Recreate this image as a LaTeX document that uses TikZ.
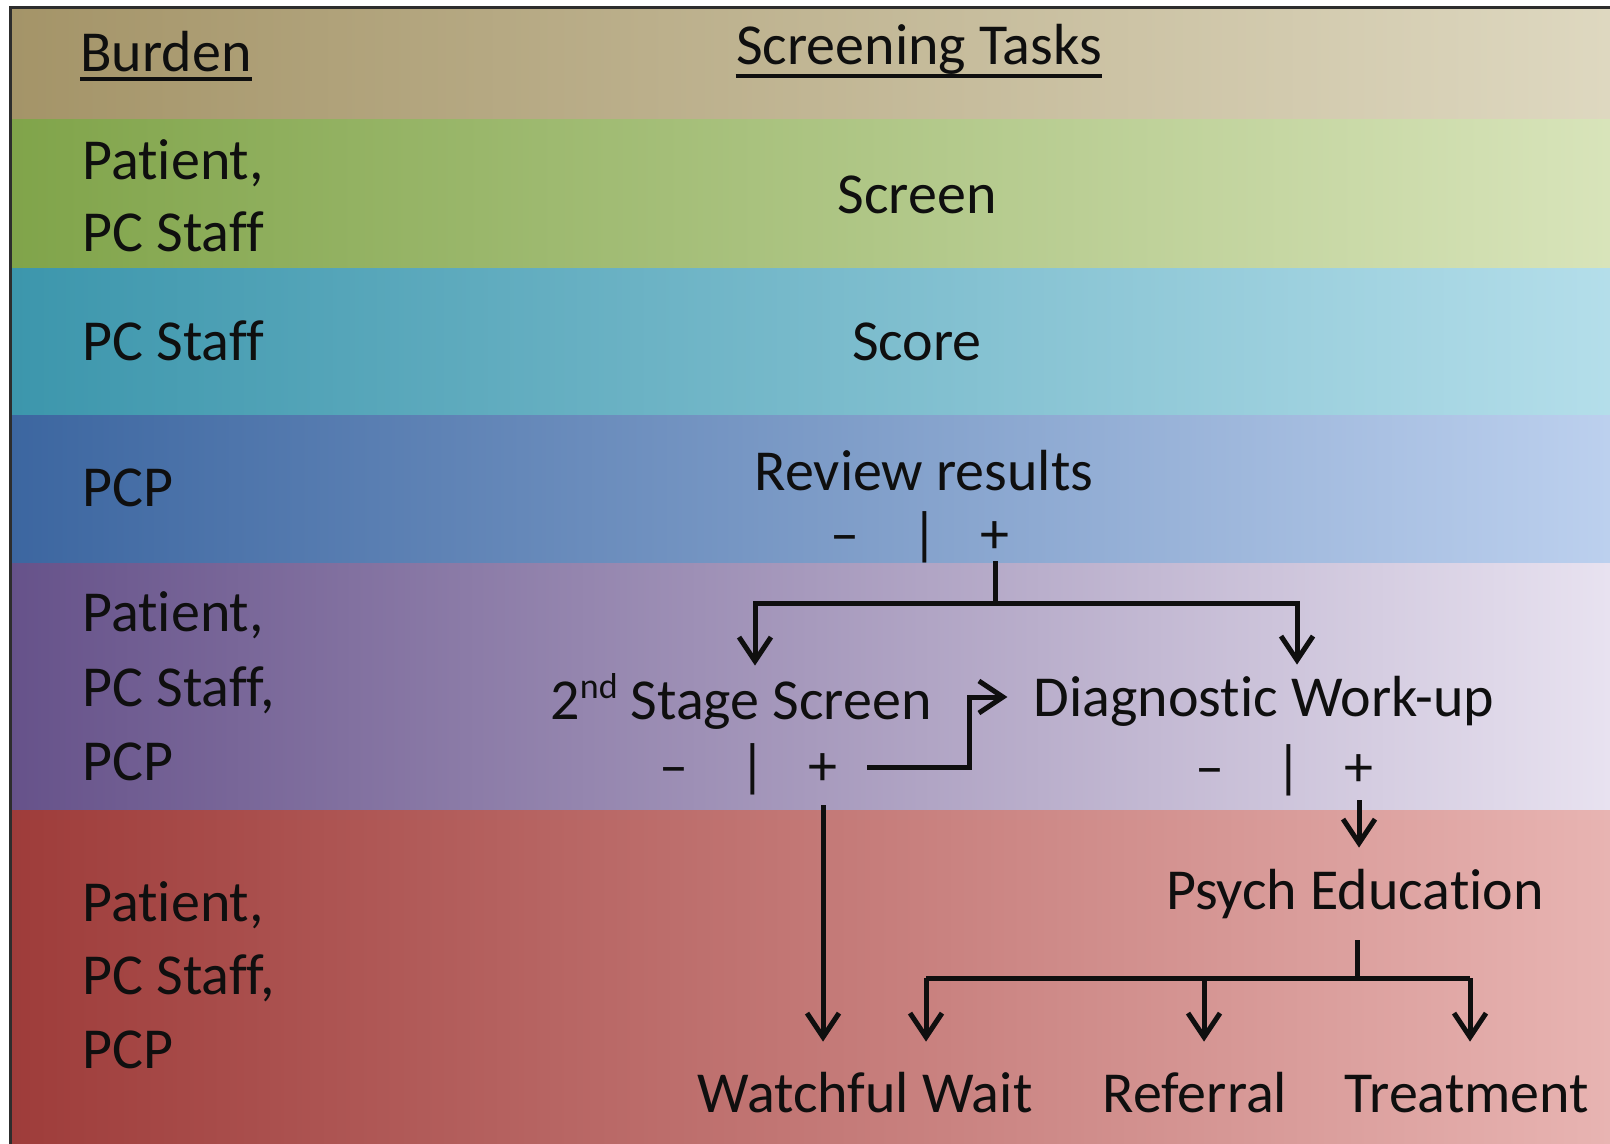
\documentclass[tikz,border=0pt]{standalone}
\usepackage{fontspec}
\setmainfont[Ligatures=NoCommon]{Carlito}
\usetikzlibrary{arrows.meta}

% band colours: left edge, middle, right edge
\definecolor{tanL}{RGB}{164,148,104}
\definecolor{tanM}{RGB}{200,190,156}
\definecolor{tanR}{RGB}{222,216,192}
\definecolor{grnL}{RGB}{128,164,74}
\definecolor{grnM}{RGB}{188,208,150}
\definecolor{grnR}{RGB}{216,228,186}
\definecolor{tealL}{RGB}{60,150,172}
\definecolor{tealM}{RGB}{138,195,210}
\definecolor{tealR}{RGB}{180,222,234}
\definecolor{bluL}{RGB}{60,102,160}
\definecolor{bluM}{RGB}{146,176,214}
\definecolor{bluR}{RGB}{188,208,238}
\definecolor{purL}{RGB}{102,82,138}
\definecolor{purM}{RGB}{192,182,208}
\definecolor{purR}{RGB}{232,226,240}
\definecolor{redL}{RGB}{158,60,58}
\definecolor{redM}{RGB}{204,146,142}
\definecolor{redR}{RGB}{232,180,178}
\definecolor{framegray}{RGB}{45,45,45}
\definecolor{ink}{RGB}{15,15,15}

\begin{document}
\begin{tikzpicture}[x=0.5pt, y=-0.5pt,
  txt/.style={inner sep=0pt, text=ink, font=\fontsize{29}{35}\selectfont},
  lbl/.style={txt, anchor=base west},
  head/.style={txt, anchor=base},
  task/.style={txt, anchor=base, text height=20.5pt, text depth=6pt},
  sign/.style={txt, anchor=base},
  uline/.style={ink, line width=2pt},
  flow/.style={ink, line width=2.5pt, line cap=butt, line join=miter},
  arr/.style={flow, -{Straight Barb[length=12pt,width=16pt]}}
]
\useasboundingbox (0,0) rectangle (1610,1144);
\fill[white] (0,0) rectangle (1610,1144);

% horizontal bands
\shade[left color=tanL, middle color=tanM, right color=tanR] (10,8) rectangle (1610,120);
\shade[left color=grnL, middle color=grnM, right color=grnR] (10,120) rectangle (1610,269);
\shade[left color=tealL, middle color=tealM, right color=tealR] (10,269) rectangle (1610,415);
\shade[left color=bluL, middle color=bluM, right color=bluR] (10,415) rectangle (1610,563);
\shade[left color=purL, middle color=purM, right color=purR] (10,563) rectangle (1610,810);
\shade[left color=redL, middle color=redM, right color=redR] (10,810) rectangle (1610,1144);
\draw[framegray, line width=1.5pt] (10,1144) -- (10,8) -- (1610,8);

% headings
\node[head, anchor=base west] (burden) at (80,72) {Burden};
\draw[uline] ([yshift=-3.5pt]burden.base west) -- ([yshift=-3.5pt]burden.base east);
\node[head] (tasks) at (919,65) {Screening Tasks};
\draw[uline] ([yshift=-5.5pt]tasks.base west) -- ([yshift=-5.5pt]tasks.base east);

% burden column
\node[lbl] (b1a) at (82,180) {Patient,};
\node[lbl] (b1b) at (82,252) {PC Staff};
\node[lbl] (b2a) at (82,361) {PC Staff};
\node[lbl] (b3a) at (82,506) {PCP};
\node[lbl] (b4a) at (82,631) {Patient,};
\node[lbl] (b4b) at (82,706) {PC Staff,};
\node[lbl] (b4c) at (82,780) {PCP};
\node[lbl] (b5a) at (82,921) {Patient,};
\node[lbl] (b5b) at (82,994) {PC Staff,};
\node[lbl] (b5c) at (82,1068) {PCP};

% screening tasks
\node[task] (screen) at (917,214) {Screen};
\node[task] (score) at (917,360) {Score};
\node[task] (review) at (924,490) {Review results};
\node[sign] (rrm) at (845,553) {–};
\node[sign] (rrb) at (925,553) {|};
\node[sign] (rrp) at (995,553) {+};

\node[task] (stage2) at (741,719) {2\raisebox{0.36em}{\fontsize{18}{18}\selectfont nd} Stage Screen};
\node[sign] (ssm) at (674,785) {–};
\node[sign] (ssb) at (753,785) {|};
\node[sign] (ssp) at (823,785) {+};

\node[task] (diag) at (1264,716) {Diagnostic Work-up};
\node[sign] (dwm) at (1210,786) {–};
\node[sign] (dwb) at (1289,786) {|};
\node[sign] (dwp) at (1359,786) {+};

\node[task] (psych) at (1355,909) {Psych Education};
\node[task] (watch) at (865,1112) {Watchful Wait};
\node[task] (refer) at (1195,1112) {Referral};
\node[task] (treat) at (1467,1112) {Treatment};

% branch points
\coordinate (rrj) at (995,603);
\coordinate (rrl) at (755,603);
\coordinate (rrr) at (1297,603);
\coordinate (ssout) at (867,767);
\coordinate (ssk) at (969,697);
\coordinate (pej) at (1357,978);
\coordinate (pel) at (926,978);
\coordinate (pem) at (1204,978);
\coordinate (per) at (1470,978);

% review results: positive result splits
\draw[flow] ([yshift=-4pt]rrp.south) -- (rrj);
\draw[arr, shorten >=6pt] (rrj) -- (rrl) -- (rrl |- stage2.north);
\draw[arr, shorten >=5pt] (rrj) -- (rrr) -- (rrr |- diag.north);

% second stage screen
\draw[arr, shorten >=13pt] (ssout) -| (ssk) -- (ssk -| diag.west);
\draw[arr, shorten >=14.5pt] ([yshift=-10pt]ssp.south) -- (ssp |- watch.north);

% diagnostic work-up
\draw[arr, shorten >=10pt] ([yshift=-7pt]dwp.south) -- (dwp |- psych.north);

% psych education outcomes
\draw[flow] ([yshift=-9.5pt]psych.south -| pej) -- (pej);
\draw[flow] (pel) -- (per);
\draw[arr, shorten >=14.5pt] (pel) -- (pel |- watch.north);
\draw[arr, shorten >=14.5pt] (pem) -- (pem |- refer.north);
\draw[arr, shorten >=14.5pt] (per) -- (per |- treat.north);
\end{tikzpicture}
\end{document}
